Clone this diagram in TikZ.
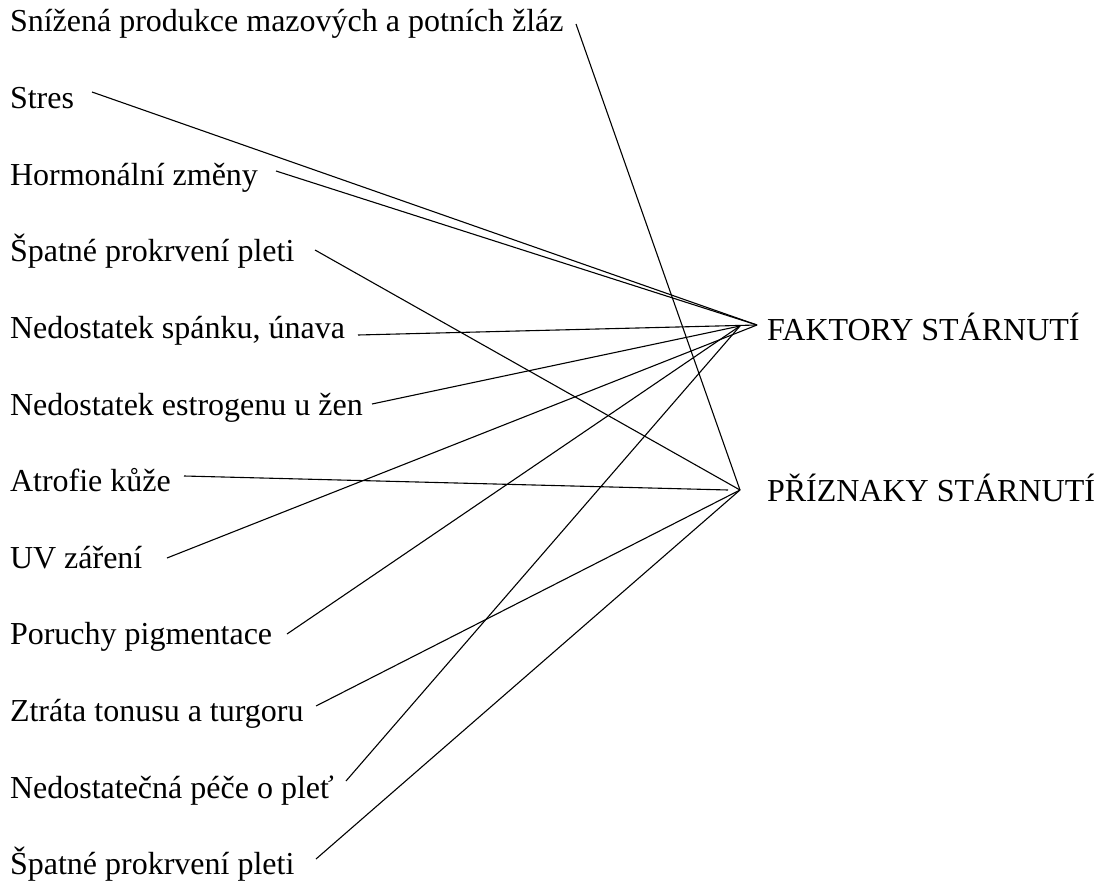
\documentclass[tikz,border=0pt]{standalone}
\usepackage{fontspec}
\setmainfont{Liberation Serif}
\begin{document}
\begin{tikzpicture}[x=1pt,y=-1pt,
  lab/.style={anchor=base west,inner sep=0pt,outer sep=0pt,font=\fontsize{32}{38}\selectfont},
  conn/.style={draw=black,line width=1.1pt}]
\useasboundingbox (0,0) rectangle (1101,883);
% left labels
\node[lab] (l1)  at (10,32)    {Snížená produkce mazových a potních žláz};
\node[lab] (l2)  at (10,108.6) {Stres};
\node[lab] (l3)  at (10,185.2) {Hormonální změny};
\node[lab] (l4)  at (10,261.8) {Špatné prokrvení pleti};
\node[lab] (l5)  at (10,338.4) {Nedostatek spánku, únava};
\node[lab] (l6)  at (10,415)   {Nedostatek estrogenu u žen};
\node[lab] (l7)  at (10,491.6) {Atrofie kůže};
\node[lab] (l8)  at (10,568.2) {UV záření};
\node[lab] (l9)  at (10,644.8) {Poruchy pigmentace};
\node[lab] (l10) at (10,721.4) {Ztráta tonusu a turgoru};
\node[lab] (l11) at (10,798)   {Nedostatečná péče o pleť};
\node[lab] (l12) at (10,874.6) {Špatné prokrvení pleti};
% right labels
\node[lab] (fk) at (767,340) {FAKTORY STÁRNUTÍ};
\node[lab] (pr) at (767,501) {PŘÍZNAKY STÁRNUTÍ};
% connector end points
\coordinate (s1)  at (576,24);
\coordinate (s2)  at (92,92);
\coordinate (s3)  at (276,171);
\coordinate (s4)  at (315,250);
\coordinate (s5)  at (358,335);
\coordinate (s6)  at (372,404);
\coordinate (s7)  at (184,476);
\coordinate (s8)  at (167,558);
\coordinate (s9)  at (287,634);
\coordinate (s10) at (316,706);
\coordinate (s11) at (346,781);
\coordinate (s12) at (316,859);
\coordinate (fkA) at (757,325);
\coordinate (fkB) at (740,326);
\coordinate (prA) at (740,490);
\coordinate (prB) at (728,490);
% connectors to FAKTORY
\draw[conn] (s2) -- (fkA);
\draw[conn] (s3) -- (fkA);
\draw[conn] (s5) -- (fkA);
\draw[conn] (s8) -- (fkA);
\draw[conn] (s6) -- (fkB);
\draw[conn] (s9) -- (fkB);
\draw[conn] (s11) -- (fkB);
% connectors to PRIZNAKY
\draw[conn] (s1) -- (prA);
\draw[conn] (s4) -- (prA);
\draw[conn] (s10) -- (prA);
\draw[conn] (s12) -- (prA);
\draw[conn] (s7) -- (prB);
\end{tikzpicture}
\end{document}
